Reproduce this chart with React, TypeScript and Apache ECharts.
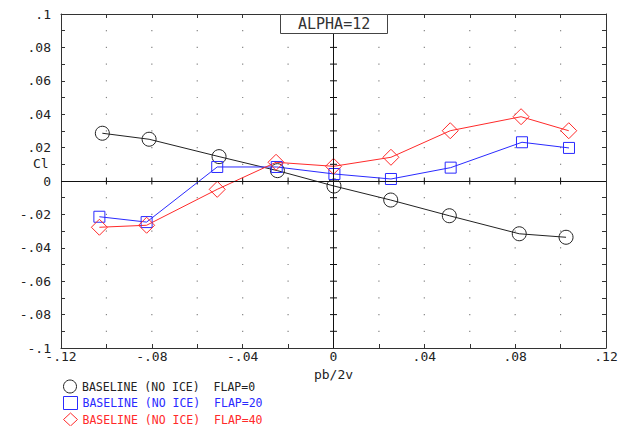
import React, { useEffect, useRef } from "react";
import * as echarts from "echarts";

const MONO = "DejaVu Sans Mono";

const seriesNames = [
  "BASELINE (NO ICE)  FLAP=0",
  "BASELINE (NO ICE)  FLAP=20",
  "BASELINE (NO ICE)  FLAP=40",
];
const seriesColors = ["#222222", "#2a2aff", "#ff2a2a"];
const seriesSymbols = ["circle", "rect", "diamond"];
const symbolSizes = [14, 11, 16];

const flap0X = [-0.1018, -0.0812, -0.0504, -0.0247, 0.0002, 0.0252, 0.051, 0.0818, 0.1024];
const flap0Y = [0.0286, 0.025, 0.0146, 0.0062, -0.003, -0.0114, -0.0208, -0.0316, -0.0337];
const flap20X = [-0.1031, -0.0823, -0.0512, -0.025, 0.0004, 0.0253, 0.0516, 0.083, 0.1037];
const flap20Y = [-0.0214, -0.0246, 0.0084, 0.0084, 0.0042, 0.0012, 0.008, 0.0232, 0.0198];
const flap40X = [-0.1031, -0.0823, -0.0512, -0.0253, 0.0, 0.0253, 0.0514, 0.0826, 0.1036];
const flap40Y = [-0.0277, -0.0265, -0.005, 0.0112, 0.0088, 0.0142, 0.0301, 0.0385, 0.0301];

const xLabelValues = [-0.12, -0.08, -0.04, 0, 0.04, 0.08, 0.12];
const xLabelTexts = ["-.12", "-.08", "-.04", "0", ".04", ".08", ".12"];
const yLabelValues = [-0.1, -0.08, -0.06, -0.04, -0.02, 0, 0.02, 0.04, 0.06, 0.08, 0.1];
const yLabelTexts = ["-.1", "-.08", "-.06", "-.04", "-.02", "0", ".02", ".04", ".06", ".08", ".1"];

const xGridTicks = [-0.1, -0.08, -0.06, -0.04, -0.02, 0, 0.02, 0.04, 0.06, 0.08, 0.1];
const yGridTicks = [-0.09, -0.08, -0.07, -0.06, -0.05, -0.04, -0.03, -0.02, -0.01, 0, 0.01, 0.02, 0.03, 0.04, 0.05, 0.06, 0.07, 0.08, 0.09];

const titleText = "ALPHA=12";
const xName = "pb/2v";
const yName = "Cl";

function labelFor(values: number[], texts: string[]) {
  return (v: number) => {
    const i = values.findIndex((t) => Math.abs(t - v) < 1e-9);
    return i >= 0 ? texts[i] : "";
  };
}

export default function App() {
  const ref = useRef<HTMLDivElement>(null);
  useEffect(() => {
    if (!ref.current) return;
    const chart = echarts.init(ref.current, null, { renderer: "svg" });
    const xs = [flap0X, flap20X, flap40X];
    const ys = [flap0Y, flap20Y, flap40Y];

    const dots: number[][] = [];
    xGridTicks.forEach((x) => yGridTicks.forEach((y) => dots.push([x, y])));
    const zeroTicks: number[][] = [
      ...xGridTicks.map((x) => [x, 0, 0]),
      ...yGridTicks.map((y) => [0, y, 1]),
    ];

    const baseX = {
      type: "value",
      min: -0.12,
      max: 0.12,
      interval: 0.02,
      splitLine: { show: false },
      axisLine: { onZero: false, lineStyle: { color: "#333", width: 1 } },
      axisTick: { inside: true, length: 4, lineStyle: { color: "#333" } },
    };
    const baseY = {
      type: "value",
      min: -0.1,
      max: 0.1,
      interval: 0.01,
      splitLine: { show: false },
      axisLine: { onZero: false, lineStyle: { color: "#333", width: 1 } },
      axisTick: { inside: true, length: 4, lineStyle: { color: "#333" } },
    };

    const legendTops = [379.5, 396, 412.5];

    chart.setOption({
      animation: false,
      backgroundColor: "#fff",
      title: {
        text: titleText,
        left: 280,
        top: 14,
        padding: [2, 18, 2, 18],
        borderColor: "#444",
        borderWidth: 1,
        backgroundColor: "#fff",
        textStyle: { fontFamily: MONO, fontSize: 15, lineHeight: 16, fontWeight: "normal", color: "#333" },
      },
      grid: { left: 61, right: 26, top: 14, bottom: 78, containLabel: false },
      xAxis: [
        {
          ...baseX,
          position: "bottom",
          name: xName,
          nameLocation: "middle",
          nameGap: 14,
          nameTextStyle: { fontFamily: MONO, fontSize: 13, color: "#222" },
          axisLabel: {
            formatter: labelFor(xLabelValues, xLabelTexts),
            margin: 2,
            fontFamily: MONO,
            fontSize: 13,
            color: "#222",
            showMinLabel: true,
            showMaxLabel: true,
          },
        },
        { ...baseX, position: "top", axisLabel: { show: false } },
      ],
      yAxis: [
        {
          ...baseY,
          position: "left",
          axisLabel: {
            formatter: labelFor(yLabelValues, yLabelTexts),
            margin: 10,
            fontFamily: MONO,
            fontSize: 13,
            color: "#222",
            showMinLabel: true,
            showMaxLabel: true,
          },
        },
        { ...baseY, position: "right", axisLabel: { show: false } },
      ],
      legend: seriesNames.map((n, i) => ({
        orient: "horizontal",
        left: 63,
        top: legendTops[i],
        padding: 0,
        itemWidth: 14,
        itemHeight: 13,
        selectedMode: false,
        data: [
          {
            name: n,
            icon: seriesSymbols[i],
            itemStyle: { color: "transparent", borderColor: seriesColors[i], borderWidth: 1 },
            textStyle: { color: seriesColors[i], fontFamily: MONO, fontSize: 11.5 },
          },
        ],
      })),
      graphic: [
        {
          type: "text",
          left: 33,
          top: 157,
          style: { text: yName, fontFamily: MONO, fontSize: 13, fill: "#222" },
        },
      ],
      series: [
        {
          type: "scatter",
          silent: true,
          symbol: "rect",
          symbolSize: 1.2,
          itemStyle: { color: "#666" },
          data: dots,
          z: 1,
        },
        {
          type: "custom",
          silent: true,
          data: zeroTicks,
          z: 3,
          renderItem: (params: any, api: any) => {
            const p = api.coord([api.value(0), api.value(1)]);
            const d = api.value(2);
            const shape =
              d === 0
                ? { x1: p[0], y1: p[1] - 3.5, x2: p[0], y2: p[1] + 3.5 }
                : { x1: p[0] - 3.5, y1: p[1], x2: p[0] + 3.5, y2: p[1] };
            return { type: "line", shape, style: { stroke: "#111", lineWidth: 1 } };
          },
          markLine: {
            silent: true,
            symbol: "none",
            label: { show: false },
            lineStyle: { color: "#111", width: 1, type: "solid" },
            data: [{ yAxis: 0 }, { xAxis: 0 }],
          },
        },
        ...seriesNames.map((n, i) => ({
          name: n,
          type: "line",
          z: 4,
          symbol: seriesSymbols[i],
          symbolSize: symbolSizes[i],
          showAllSymbol: true,
          lineStyle: { color: seriesColors[i], width: 1 },
          itemStyle: { color: "transparent", borderColor: seriesColors[i], borderWidth: 1 },
          data: xs[i].map((x, j) => [x, ys[i][j]]),
        })),
      ],
    });
    return () => chart.dispose();
  }, []);
  return <div ref={ref} style={{ position: "fixed", left: 0, top: 0, width: 632, height: 426 }} />;
}
